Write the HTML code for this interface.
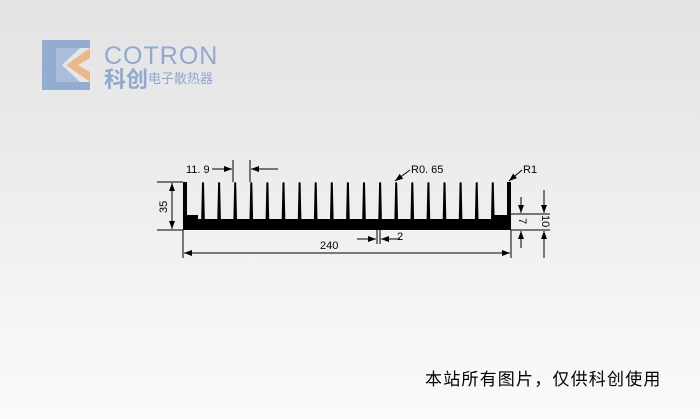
<!DOCTYPE html>
<html><head><meta charset="utf-8"><style>
html,body{margin:0;padding:0}
body{width:700px;height:419px;overflow:hidden;background:linear-gradient(#e3e3e3 0%,#ececec 40%,#fbfbfb 100%);font-family:"Liberation Sans","Noto Sans CJK SC",sans-serif;position:relative}
</style></head><body>
<svg width="700" height="419" style="position:absolute;left:0;top:0">
<defs><marker id="a" markerWidth="8" markerHeight="6" refX="8" refY="3" orient="auto" markerUnits="userSpaceOnUse"><path d="M0,0 L8,3 L0,6z" fill="#000"/></marker></defs>
<polygon points="42,40 90,40 90,48 56,48 56,82 90,82 90,90 42,90" fill="#93add0"/>
<polygon points="90,48 66,65 90,82 90,72 78,65 90,58" fill="#e9b98d"/>
<polygon points="56,48 80,48 62,65 80,82 56,82" fill="#a9bedc"/>
<text x="104" y="64" font-size="25" fill="#8fa9cf" font-family="Liberation Sans" letter-spacing="1">COTRON</text>
<text x="104" y="87" font-size="22" fill="#8fa9cf" font-weight="bold" font-family="Noto Sans CJK SC">科创</text>
<text x="148" y="83" font-size="13" fill="#8fa9cf" font-family="Noto Sans CJK SC">电子散热器</text>
<path fill="#000" d="M183,182 L187,182 L187,215 L198,215 L198,219 L492,219 L492,215 L507,215 L507,182 L511,182 L511,230 L183,230 Z"/>
<g fill="#000" id="fins"></g>
<g stroke="#000" stroke-width="1" fill="none">
<line x1="157" y1="182" x2="183" y2="182"/><line x1="157" y1="230" x2="183" y2="230"/>
<line x1="172" y1="206" x2="172" y2="183" marker-end="url(#a)"/><line x1="172" y1="206" x2="172" y2="229" marker-end="url(#a)"/>
<line x1="183" y1="230" x2="183" y2="258"/><line x1="511" y1="230" x2="511" y2="258"/>
<line x1="330" y1="253" x2="184" y2="253" marker-end="url(#a)"/><line x1="330" y1="253" x2="510" y2="253" marker-end="url(#a)"/>
<line x1="377" y1="230" x2="377" y2="244"/><line x1="380" y1="230" x2="380" y2="244"/>
<line x1="357" y1="239" x2="376" y2="239" marker-end="url(#a)"/><line x1="400" y1="239" x2="381" y2="239" marker-end="url(#a)"/>
<line x1="233" y1="160" x2="233" y2="182"/><line x1="250" y1="160" x2="250" y2="182"/>
<line x1="212" y1="169" x2="232" y2="169" marker-end="url(#a)"/><line x1="278" y1="169" x2="251" y2="169" marker-end="url(#a)"/>
<line x1="410" y1="170" x2="395" y2="181" marker-end="url(#a)"/>
<line x1="522" y1="170" x2="509" y2="181" marker-end="url(#a)"/>
<line x1="511" y1="214" x2="550" y2="214"/><line x1="511" y1="230" x2="550" y2="230"/>
<line x1="521" y1="197" x2="521" y2="213" marker-end="url(#a)"/><line x1="521" y1="248" x2="521" y2="231" marker-end="url(#a)"/>
<line x1="544" y1="190" x2="544" y2="213" marker-end="url(#a)"/><line x1="544" y1="258" x2="544" y2="231" marker-end="url(#a)"/>
</g>
<g font-family="Liberation Sans" font-size="11" fill="#000">
<text x="186" y="173">11. 9</text>
<text x="411" y="173">R0. 65</text>
<text x="523" y="173">R1</text>
<text x="320" y="249">240</text>
<text x="397" y="240">2</text>
<text transform="translate(167,213) rotate(-90)">35</text>
<text transform="translate(519,218) rotate(90)">7</text>
<text transform="translate(542,215) rotate(90)">10</text>
</g>
<text x="425" y="385" font-size="17" letter-spacing="1.2" fill="#000" font-family="Noto Sans CJK SC">本站所有图片，仅供科创使用</text>
</svg>
<script>
var g=document.getElementById('fins'),s='';
for(var i=0;i<19;i++){var c=203+i*16.1;s+='<path d="M'+(c-1.8)+',219 L'+(c-1)+',183 Q'+c+',181 '+(c+1)+',183 L'+(c+1.8)+',219Z"/>';}
g.innerHTML=s;
</script>
</body></html>
